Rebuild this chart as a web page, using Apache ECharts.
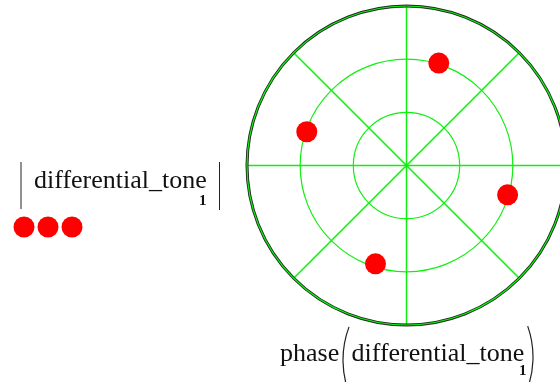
<!DOCTYPE html>
<html>
<head>
<meta charset="utf-8">
<script src="https://cdn.jsdelivr.net/npm/echarts@6/dist/echarts.min.js"></script>
<style>
  html, body { margin: 0; padding: 0; background: #fff; }
  #chart { width: 560px; height: 382px; }
</style>
</head>
<body>
<div id="chart"></div>
<script>
// Magnitude and phase (degrees) of each differential tone sample
const magnitudes = [1.01, 0.99, 0.99, 0.97];
const phasesDeg = [72.5, 161.3, 343.8, 252.5];

// Radial grid rings and angular spokes
const radiusTicks = [0, 0.5, 1.0, 1.5];
const angleTicks = [0, 45, 90, 135, 180, 225, 270, 315, 360];

const signalName = 'differential_tone';
const subscript = '1';

const SERIF = '"Liberation Serif", "DejaVu Serif", serif';
const GRID_GREEN = '#11ee11';
const DOT_RED = '#ff0000';

const points = magnitudes.map((m, i) => [m, phasesDeg[i]]);

const chart = echarts.init(document.getElementById('chart'), null, { renderer: 'canvas' });

function txt(text, x, y, size, weight) {
  return {
    type: 'text',
    x: x, y: y, z: 10,
    style: {
      text: text,
      font: (weight ? weight + ' ' : '') + size + 'px ' + SERIF,
      fill: '#111',
      textVerticalAlign: 'bottom'
    }
  };
}

chart.setOption({
  animation: false,
  backgroundColor: '#ffffff',
  polar: {
    center: [406.5, 165.5],
    radius: 159.5
  },
  angleAxis: {
    type: 'value',
    min: angleTicks[0],
    max: angleTicks[angleTicks.length - 1],
    interval: angleTicks[1] - angleTicks[0],
    startAngle: 0,
    clockwise: false,
    z: 1,
    axisLine: { show: true, lineStyle: { color: '#1e2a1e', width: 3 } },
    axisTick: { show: false },
    axisLabel: { show: false },
    splitArea: { show: false },
    splitLine: { show: true, lineStyle: { color: GRID_GREEN, width: 1.5 } }
  },
  radiusAxis: {
    type: 'value',
    min: radiusTicks[0],
    max: radiusTicks[radiusTicks.length - 1],
    interval: radiusTicks[1] - radiusTicks[0],
    z: 2,
    axisLine: { show: false },
    axisTick: { show: false },
    axisLabel: { show: false },
    splitArea: { show: false },
    splitLine: { show: true, lineStyle: { color: GRID_GREEN, width: 1.2 } }
  },
  series: [{
    name: signalName,
    type: 'scatter',
    coordinateSystem: 'polar',
    symbol: 'circle',
    symbolSize: 21,
    itemStyle: { color: DOT_RED, opacity: 1 },
    data: points,
    z: 5
  }],
  graphic: [
    // legend key: |differential_tone_1| over three dots
    { type: 'line', shape: { x1: 21, y1: 162, x2: 21, y2: 209 }, style: { stroke: '#222', lineWidth: 1 } },
    { type: 'line', shape: { x1: 219.5, y1: 162, x2: 219.5, y2: 210 }, style: { stroke: '#222', lineWidth: 1 } },
    txt(signalName, 34, 194, 26),
    txt(subscript, 199, 209, 15, 'bold'),
    { type: 'circle', shape: { cx: 24, cy: 227, r: 10.5 }, style: { fill: DOT_RED } },
    { type: 'circle', shape: { cx: 48, cy: 227, r: 10.5 }, style: { fill: DOT_RED } },
    { type: 'circle', shape: { cx: 72, cy: 227, r: 10.5 }, style: { fill: DOT_RED } },

    // axis title: phase(differential_tone_1)
    txt('phase', 280, 367, 26),
    { type: 'arc', shape: { cx: 437, cy: 360, r: 94, startAngle: Math.PI - 0.4, endAngle: Math.PI + 0.36, clockwise: true },
      style: { stroke: '#222', fill: null, lineWidth: 1.2 } },
    txt(signalName, 351.5, 367, 26),
    txt(subscript, 519, 379, 15, 'bold'),
    { type: 'arc', shape: { cx: 440.5, cy: 357, r: 92.5, startAngle: -0.34, endAngle: 0.42, clockwise: true },
      style: { stroke: '#222', fill: null, lineWidth: 1.2 } }
  ]
});
</script>
</body>
</html>
